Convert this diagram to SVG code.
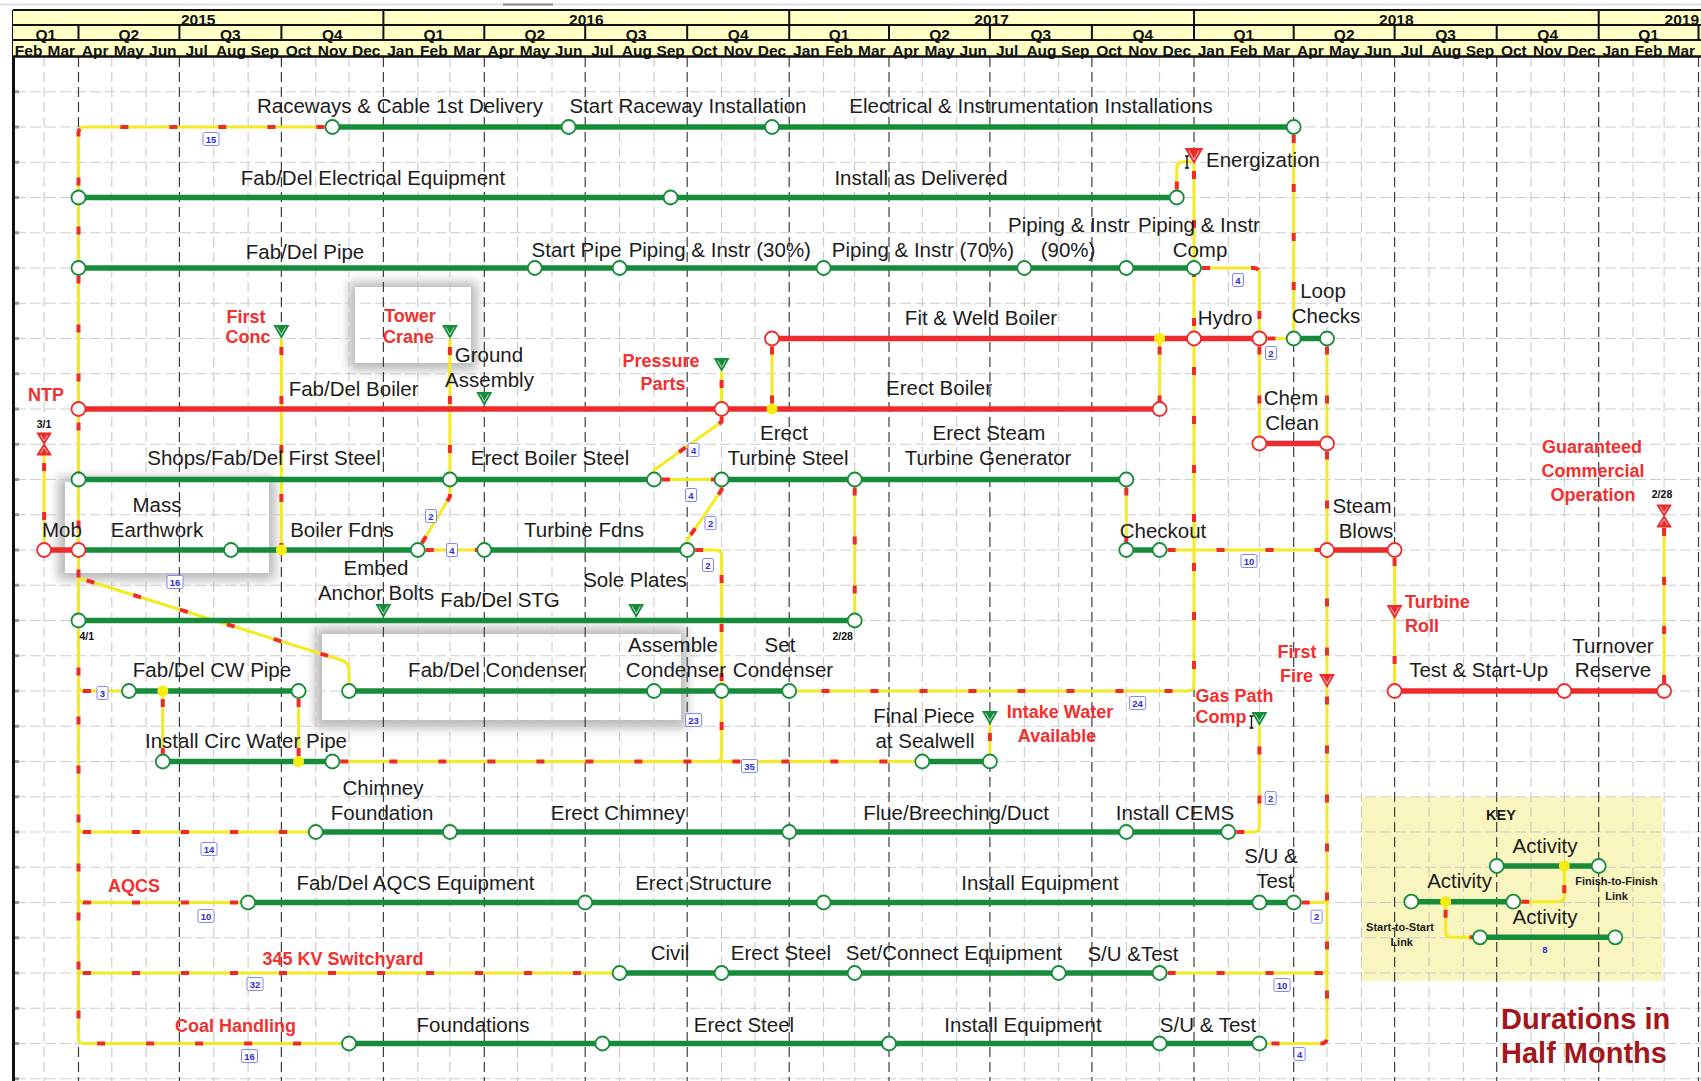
<svg xmlns="http://www.w3.org/2000/svg" width="1701" height="1081" viewBox="0 0 1701 1081">
<style>
.grid-h{stroke:#cdcdcd;stroke-width:1;stroke-dasharray:11 4;fill:none}
.grid-m{stroke:#c4c4c4;stroke-width:1;stroke-dasharray:10 5;fill:none}
.grid-q{stroke:#3c3c3c;stroke-width:1.2;stroke-dasharray:10 5;fill:none}
.tick{stroke:#9a9a9a;stroke-width:3;fill:none}
.hl{stroke:#111;stroke-width:2;fill:none}
.ht{font-family:"Liberation Sans",Arial,sans-serif;font-weight:bold;font-size:15.5px;fill:#111;text-anchor:middle}
.ag{stroke:#168C3A;stroke-width:5.5;fill:none}
.ar{stroke:#EE2B2B;stroke-width:5.5;fill:none}
.lk{stroke:#F3EA24;stroke-width:3;fill:none}
.lkd{stroke:#EE2B2B;stroke-width:4;fill:none;stroke-dasharray:8 41;stroke-dashoffset:-8}
.ng{fill:#fff;stroke:#168C3A;stroke-width:1.8}
.nr{fill:#fff;stroke:#EE2B2B;stroke-width:1.8}
.yd{fill:#F5EC12}
.t{font-family:"Liberation Sans",Arial,sans-serif;font-size:20.5px;fill:#1c1c1c;text-anchor:middle}
.tr{font-family:"Liberation Sans",Arial,sans-serif;font-size:18px;font-weight:bold;fill:#F2302F;text-anchor:middle}
.ts{font-family:"Liberation Sans",Arial,sans-serif;font-size:10.5px;font-weight:bold;fill:#111;text-anchor:middle}
.tk{font-family:"Liberation Sans",Arial,sans-serif;font-size:11px;font-weight:bold;fill:#1c1c1c;text-anchor:middle}
.tag{fill:#fff;stroke:#7b7bf2;stroke-width:0.9}
.tagt{font-family:"Liberation Sans",Arial,sans-serif;font-size:9.5px;font-weight:bold;fill:#2b2bdc;text-anchor:middle}
.dur{font-family:"Liberation Sans",Arial,sans-serif;font-size:29px;font-weight:bold;fill:#A3161A}
.inner{fill:none;stroke:#fff;stroke-width:1;opacity:.7}
.cur{stroke:#111;stroke-width:1.4;fill:none}
.hgs{fill:#EE2B2B;stroke:#EE2B2B;stroke-width:1.2;stroke-linejoin:round}
.shadow{fill:#8a8a8a;opacity:.6}
</style>
<defs>
  <filter id="soft" x="-20%" y="-30%" width="140%" height="160%"><feGaussianBlur stdDeviation="5.5"/></filter>
  <path id="tri" d="M-8 0H8L0 14Z"/>
  <path id="triv" d="M-4.2 2.3L0 9.5L4.2 2.3"/>
  <!-- dependency link routes -->
  <path id="k1" d="M332.4 127H84.5Q78.5 127 78.5 133V1037.5Q78.5 1043.5 84.5 1043.5H349"/>
  <path id="k2" d="M78.5 685Q78.5 691 84.5 691H128.9"/>
  <path id="k3" d="M78.5 826Q78.5 832 84.5 832H315.8"/>
  <path id="k4" d="M78.5 896.5Q78.5 902.5 84.5 902.5H248.1"/>
  <path id="k5" d="M78.5 967Q78.5 973 84.5 973H619.6"/>
  <path id="k6" d="M79 578L341 660Q349 662.5 349 670V691"/>
  <path id="k7" d="M44.1 455V550"/>
  <path id="k8" d="M281.4 339V550"/>
  <path id="k9" d="M449.9 339V479.5"/>
  <path id="k10" d="M721.6 372V409"/>
  <path id="k11" d="M721.6 409V421.7L654 470V479.5"/>
  <path id="k12" d="M654 479.5H721.6"/>
  <path id="k13" d="M721.6 479.5V490L687.2 540V550"/>
  <path id="k14" d="M687.2 550H715.6Q721.6 550 721.6 556V755.5Q721.6 761.5 715.6 761.5"/>
  <path id="k15" d="M332.4 761.5H922.3"/>
  <path id="k16" d="M417.8 550H484.3"/>
  <path id="k17" d="M417.8 550L449.9 496.7V479.5"/>
  <path id="k18" d="M772 338.5V409"/>
  <path id="k19" d="M1159.6 338.5V409"/>
  <path id="k20" d="M1176.8 197.5V168Q1176.8 162 1182.8 162H1192"/>
  <path id="k21" d="M1194 163V685Q1194 691 1188 691H789.2"/>
  <path id="k22" d="M1194 268H1253.4Q1259.4 268 1259.4 274V338.5"/>
  <path id="k23" d="M1259.4 338.5H1293.7"/>
  <path id="k24" d="M1293.7 127V338.5"/>
  <path id="k25" d="M1259.4 338.5V443.5"/>
  <path id="k26" d="M1327 338.5V443.5"/>
  <path id="k27" d="M1327 443.5V1037.5Q1327 1043.5 1321 1043.5H1259.4"/>
  <path id="k28" d="M1126.3 479.5V550"/>
  <path id="k29" d="M1159.6 550H1327"/>
  <path id="k30" d="M1394.6 550V691"/>
  <path id="k31" d="M1293.7 902.5H1321Q1327 902.5 1327 896.5"/>
  <path id="k32" d="M1159.6 973H1321Q1327 973 1327 967"/>
  <path id="k33" d="M1228.3 832H1253.4Q1259.4 832 1259.4 826V726"/>
  <path id="k34" d="M1664.1 691V527"/>
  <path id="k35" d="M989.9 725V761.5"/>
  <path id="k36" d="M854.7 479.5V620.5"/>
  <path id="k37" d="M162.8 691V761.5"/>
  <path id="k38" d="M298.6 691V761.5"/>
  <path id="kk1" d="M1513.3 901.7H1558.3Q1564.3 901.7 1564.3 895.7V866"/>
  <path id="kk2" d="M1445.6 901.7V931.3Q1445.6 937.3 1451.6 937.3H1480"/>
</defs>

<rect x="0" y="0" width="1701" height="1081" fill="#fff"/>
<path d="M0 4.5H1701" stroke="#dcdce6" stroke-width="2"/>
<path d="M503 4.5H553" stroke="#8a8a8a" stroke-width="2"/>

<!-- highlight panels and key background (grid shows through) -->
<g id="panels">
  <rect class="shadow" x="349" y="282" width="128" height="88" filter="url(#soft)"/>
  <rect x="355" y="287" width="116" height="76" fill="#fff"/>
  <rect class="shadow" x="58" y="477" width="217" height="103" filter="url(#soft)"/>
  <rect x="65" y="482" width="204" height="91" fill="#fff"/>
  <rect class="shadow" x="315" y="628" width="372" height="100" filter="url(#soft)"/>
  <rect x="322" y="634" width="359" height="86" fill="#fff"/>
  <rect x="1361.5" y="797" width="301" height="184" fill="#F9F5BE"/>
</g>

<!-- time grid -->
<g id="grid">
  <path class="grid-h" d="M15 91.75H1701M15 127H1701M15 162.25H1701M15 197.5H1701M15 232.75H1701M15 268H1701M15 303.25H1701M15 338.5H1701M15 373.75H1701M15 409H1701M15 444.25H1701M15 479.5H1701M15 514.75H1701M15 550H1701M15 585.25H1701M15 620.5H1701M15 655.75H1701M15 691H1701M15 726.25H1701M15 761.5H1701M15 796.75H1701M15 832H1701M15 867.25H1701M15 902.5H1701M15 937.75H1701M15 973H1701M15 1008.25H1701M15 1043.5H1701M15 1078.75H1701"/>
  <path class="tick" d="M15 91.75H19M15 127H19M15 162.25H19M15 197.5H19M15 232.75H19M15 268H19M15 303.25H19M15 338.5H19M15 373.75H19M15 409H19M15 444.25H19M15 479.5H19M15 514.75H19M15 550H19M15 585.25H19M15 620.5H19M15 655.75H19M15 691H19M15 726.25H19M15 761.5H19M15 796.75H19M15 832H19M15 867.25H19M15 902.5H19M15 937.75H19M15 973H19M15 1008.25H19M15 1043.5H19M15 1078.75H19"/>
  <path class="grid-m" d="M44.1 57V1081M111.8 57V1081M146.1 57V1081M213.8 57V1081M248.1 57V1081M315.8 57V1081M349 57V1081M417.8 57V1081M449.9 57V1081M517.6 57V1081M552 57V1081M619.6 57V1081M654 57V1081M721.6 57V1081M754.9 57V1081M823.6 57V1081M854.7 57V1081M922.3 57V1081M956.7 57V1081M1024.3 57V1081M1058.7 57V1081M1126.3 57V1081M1159.6 57V1081M1228.3 57V1081M1259.4 57V1081M1327 57V1081M1361.4 57V1081M1429 57V1081M1463.4 57V1081M1531 57V1081M1564.3 57V1081M1633 57V1081M1664.1 57V1081"/>
  <path class="grid-q" d="M78.5 57V1081M179.4 57V1081M281.4 57V1081M383.4 57V1081M484.3 57V1081M585.2 57V1081M687.2 57V1081M789.2 57V1081M889 57V1081M989.9 57V1081M1091.9 57V1081M1194 57V1081M1293.7 57V1081M1394.6 57V1081M1496.7 57V1081M1598.7 57V1081M1698.5 57V1081"/>
  <path d="M13.5 10V1081" stroke="#111" stroke-width="3"/>
</g>

<!-- timescale header -->
<g id="header">
  <rect x="13" y="10" width="1688" height="47" fill="#FFFFC6"/>
  <g class="ht">
    <text x="198.2" y="25">2015</text><text x="586.3" y="25">2016</text><text x="991.6" y="25">2017</text><text x="1396.3" y="25">2018</text><text x="1699" y="25" style="text-anchor:end">2019</text>
    <text x="45.8" y="40">Q1</text><text x="128.9" y="40">Q2</text><text x="230.4" y="40">Q3</text><text x="332.4" y="40">Q4</text>
    <text x="433.9" y="40">Q1</text><text x="534.8" y="40">Q2</text><text x="636.2" y="40">Q3</text><text x="738.2" y="40">Q4</text>
    <text x="839.1" y="40">Q1</text><text x="939.5" y="40">Q2</text><text x="1040.9" y="40">Q3</text><text x="1142.9" y="40">Q4</text>
    <text x="1243.8" y="40">Q1</text><text x="1344.2" y="40">Q2</text><text x="1445.6" y="40">Q3</text><text x="1547.7" y="40">Q4</text>
    <text x="1648.6" y="40">Q1</text>
    <text x="28.6" y="56">Feb</text><text x="61.3" y="56">Mar</text><text x="95.1" y="56">Apr</text><text x="128.9" y="56">May</text><text x="162.8" y="56">Jun</text><text x="196.6" y="56">Jul</text><text x="231" y="56">Aug</text><text x="264.8" y="56">Sep</text><text x="298.6" y="56">Oct</text><text x="332.4" y="56">Nov</text><text x="366.2" y="56">Dec</text>
    <text x="400.6" y="56">Jan</text><text x="433.9" y="56">Feb</text><text x="467.1" y="56">Mar</text><text x="500.9" y="56">Apr</text><text x="534.8" y="56">May</text><text x="568.6" y="56">Jun</text><text x="602.4" y="56">Jul</text><text x="636.8" y="56">Aug</text><text x="670.6" y="56">Sep</text><text x="704.4" y="56">Oct</text><text x="738.2" y="56">Nov</text><text x="772" y="56">Dec</text>
    <text x="806.4" y="56">Jan</text><text x="839.1" y="56">Feb</text><text x="871.8" y="56">Mar</text><text x="905.7" y="56">Apr</text><text x="939.5" y="56">May</text><text x="973.3" y="56">Jun</text><text x="1007.1" y="56">Jul</text><text x="1041.5" y="56">Aug</text><text x="1075.3" y="56">Sep</text><text x="1109.1" y="56">Oct</text><text x="1142.9" y="56">Nov</text><text x="1176.8" y="56">Dec</text>
    <text x="1211.1" y="56">Jan</text><text x="1243.8" y="56">Feb</text><text x="1276.6" y="56">Mar</text><text x="1310.4" y="56">Apr</text><text x="1344.2" y="56">May</text><text x="1378" y="56">Jun</text><text x="1411.8" y="56">Jul</text><text x="1446.2" y="56">Aug</text><text x="1480" y="56">Sep</text><text x="1513.8" y="56">Oct</text><text x="1547.7" y="56">Nov</text><text x="1581.5" y="56">Dec</text>
    <text x="1615.8" y="56">Jan</text><text x="1648.6" y="56">Feb</text><text x="1681.3" y="56">Mar</text>
  </g>
  <path class="hl" d="M13 10H1701M13 25H1701M13 40H1701"/>
  <path d="M13 56.5H1701" stroke="#111" stroke-width="2.5"/>
  <path class="hl" d="M383.4 10V25M789.2 10V25M1194 10V25M1598.7 10V25"/>
  <path class="hl" d="M78.5 25V40M179.4 25V40M281.4 25V40M383.4 25V40M484.3 25V40M585.2 25V40M687.2 25V40M789.2 25V40M889 25V40M989.9 25V40M1091.9 25V40M1194 25V40M1293.7 25V40M1394.6 25V40M1496.7 25V40M1598.7 25V40M1698.5 25V40"/>
</g>

<!-- logic links: yellow route with red direction marks -->
<g id="connectors">
  <g class="lk">
    <use href="#k1"/><use href="#k2"/><use href="#k3"/><use href="#k4"/><use href="#k5"/><use href="#k6"/><use href="#k7"/><use href="#k8"/><use href="#k9"/><use href="#k10"/>
    <use href="#k11"/><use href="#k12"/><use href="#k13"/><use href="#k14"/><use href="#k15"/><use href="#k16"/><use href="#k17"/><use href="#k18"/><use href="#k19"/><use href="#k20"/>
    <use href="#k21"/><use href="#k22"/><use href="#k23"/><use href="#k24"/><use href="#k25"/><use href="#k26"/><use href="#k27"/><use href="#k28"/><use href="#k29"/><use href="#k30"/>
    <use href="#k31"/><use href="#k32"/><use href="#k33"/><use href="#k34"/><use href="#k35"/><use href="#k36"/><use href="#k37"/><use href="#k38"/>
    <use href="#kk1"/><use href="#kk2"/>
  </g>
  <g class="lkd">
    <use href="#k1"/><use href="#k2"/><use href="#k3"/><use href="#k4"/><use href="#k5"/><use href="#k6"/><use href="#k7"/><use href="#k8"/><use href="#k9"/><use href="#k10"/>
    <use href="#k11"/><use href="#k12"/><use href="#k13"/><use href="#k14"/><use href="#k15"/><use href="#k16"/><use href="#k17"/><use href="#k18"/><use href="#k19"/><use href="#k20"/>
    <use href="#k21"/><use href="#k22"/><use href="#k23"/><use href="#k24"/><use href="#k25"/><use href="#k26"/><use href="#k27"/><use href="#k28"/><use href="#k29"/><use href="#k30"/>
    <use href="#k31"/><use href="#k32"/><use href="#k33"/><use href="#k34"/><use href="#k35"/><use href="#k36"/><use href="#k37"/><use href="#k38"/>
    <use href="#kk1"/><use href="#kk2"/>
  </g>
  <path class="cur" d="M1187 156V168M1185 156H1189M1185 168H1189"/>
  <path class="cur" d="M1251.5 716V728M1249.5 716H1253.5M1249.5 728H1253.5"/>
  <g id="link-tags">
    <rect class="tag" x="203" y="132.5" width="16" height="13" rx="1.5"/><text class="tagt" x="211" y="142.5">15</text>
    <rect class="tag" x="97" y="686.5" width="11" height="13" rx="1.5"/><text class="tagt" x="102.4" y="696.5">3</text>
    <rect class="tag" x="201" y="842.5" width="16" height="13" rx="1.5"/><text class="tagt" x="209" y="852.5">14</text>
    <rect class="tag" x="198" y="909.5" width="16" height="13" rx="1.5"/><text class="tagt" x="206" y="919.5">10</text>
    <rect class="tag" x="247" y="977.5" width="16" height="13" rx="1.5"/><text class="tagt" x="255" y="987.5">32</text>
    <rect class="tag" x="241.5" y="1049.5" width="16" height="13" rx="1.5"/><text class="tagt" x="249.5" y="1059.5">16</text>
    <rect class="tag" x="167" y="575.5" width="16" height="13" rx="1.5"/><text class="tagt" x="175" y="585.5">16</text>
    <rect class="tag" x="688" y="443.5" width="11" height="13" rx="1.5"/><text class="tagt" x="693.6" y="453.5">4</text>
    <rect class="tag" x="685.5" y="488.5" width="11" height="13" rx="1.5"/><text class="tagt" x="691" y="498.5">4</text>
    <rect class="tag" x="705" y="516.5" width="11" height="13" rx="1.5"/><text class="tagt" x="710.6" y="526.5">2</text>
    <rect class="tag" x="702.5" y="558.5" width="11" height="13" rx="1.5"/><text class="tagt" x="708" y="568.5">2</text>
    <rect class="tag" x="425.5" y="509.5" width="11" height="13" rx="1.5"/><text class="tagt" x="431" y="519.5">2</text>
    <rect class="tag" x="446.5" y="543.5" width="11" height="13" rx="1.5"/><text class="tagt" x="452" y="553.5">4</text>
    <rect class="tag" x="741.6" y="759.5" width="16" height="13" rx="1.5"/><text class="tagt" x="749.6" y="769.5">35</text>
    <rect class="tag" x="685.6" y="713.5" width="16" height="13" rx="1.5"/><text class="tagt" x="693.6" y="723.5">23</text>
    <rect class="tag" x="1129.6" y="696.5" width="16" height="13" rx="1.5"/><text class="tagt" x="1137.6" y="706.5">24</text>
    <rect class="tag" x="1232.5" y="273.5" width="11" height="13" rx="1.5"/><text class="tagt" x="1238" y="283.5">4</text>
    <rect class="tag" x="1265.5" y="346.5" width="11" height="13" rx="1.5"/><text class="tagt" x="1271" y="356.5">2</text>
    <rect class="tag" x="1241" y="554.5" width="16" height="13" rx="1.5"/><text class="tagt" x="1249" y="564.5">10</text>
    <rect class="tag" x="1265.2" y="791.5" width="11" height="13" rx="1.5"/><text class="tagt" x="1270.7" y="801.5">2</text>
    <rect class="tag" x="1311.1" y="910.2" width="11" height="13" rx="1.5"/><text class="tagt" x="1316.6" y="920.2">2</text>
    <rect class="tag" x="1274" y="978.5" width="16" height="13" rx="1.5"/><text class="tagt" x="1282" y="988.5">10</text>
    <rect class="tag" x="1294.1" y="1047.5" width="11" height="13" rx="1.5"/><text class="tagt" x="1299.6" y="1057.5">4</text>
  </g>
</g>

<!-- activities, one group each (bar + caption) -->
<g id="activities">
  <g id="act-raceways-delivery"><path class="ag" d="M332.4 127H568.6"/><text class="t" x="400" y="113">Raceways &amp; Cable 1st Delivery</text></g>
  <g id="act-start-raceway"><path class="ag" d="M568.6 127H772"/><text class="t" x="688" y="113">Start Raceway Installation</text></g>
  <g id="act-ei-install"><path class="ag" d="M772 127H1293.7"/><text class="t" x="1031" y="113">Electrical &amp; Instrumentation Installations</text></g>

  <g id="act-fabdel-elec"><path class="ag" d="M78.5 197.5H670.6"/><text class="t" x="373" y="185">Fab/Del Electrical Equipment</text></g>
  <g id="act-install-delivered"><path class="ag" d="M670.6 197.5H1176.8"/><text class="t" x="921" y="185">Install as Delivered</text></g>

  <g id="act-fabdel-pipe"><path class="ag" d="M78.5 268H534.8"/><text class="t" x="305" y="259">Fab/Del Pipe</text></g>
  <g id="act-start-pipe"><path class="ag" d="M534.8 268H619.6"/><text class="t" x="576.6" y="257">Start Pipe</text></g>
  <g id="act-pipe-30"><path class="ag" d="M619.6 268H823.6"/><text class="t" x="719.8" y="257">Piping &amp; Instr (30%)</text></g>
  <g id="act-pipe-70"><path class="ag" d="M823.6 268H1024.3"/><text class="t" x="923" y="257">Piping &amp; Instr (70%)</text></g>
  <g id="act-pipe-90"><path class="ag" d="M1024.3 268H1126.3"/><text class="t" x="1069" y="232">Piping &amp; Instr</text><text class="t" x="1068" y="257">(90%)</text></g>
  <g id="act-pipe-comp"><path class="ag" d="M1126.3 268H1194"/><text class="t" x="1199" y="232">Piping &amp; Instr</text><text class="t" x="1200" y="257">Comp</text></g>

  <g id="act-fit-weld"><path class="ar" d="M772 338.5H1194"/><text class="t" x="981" y="325">Fit &amp; Weld Boiler</text></g>
  <g id="act-hydro"><path class="ar" d="M1194 338.5H1259.4"/><text class="t" x="1225" y="325">Hydro</text></g>
  <g id="act-loop-checks"><path class="ag" d="M1293.7 338.5H1327"/><text class="t" x="1323" y="298">Loop</text><text class="t" x="1326" y="323">Checks</text></g>

  <g id="act-fabdel-boiler"><path class="ar" d="M78.5 409H721.6"/><text class="t" x="353.6" y="396">Fab/Del Boiler</text></g>
  <g id="act-erect-boiler"><path class="ar" d="M721.6 409H1159.6"/><text class="t" x="939" y="395">Erect Boiler</text></g>
  <g id="act-chem-clean"><path class="ar" d="M1259.4 443.5H1327"/><text class="t" x="1291" y="405">Chem</text><text class="t" x="1292" y="430">Clean</text></g>

  <g id="act-first-steel"><path class="ag" d="M78.5 479.5H449.9"/><text class="t" x="264" y="465">Shops/Fab/Del First Steel</text></g>
  <g id="act-erect-boiler-steel"><path class="ag" d="M449.9 479.5H654"/><text class="t" x="550" y="465">Erect Boiler Steel</text></g>
  <g id="act-erect-turbine-steel"><path class="ag" d="M721.6 479.5H854.7"/><text class="t" x="784" y="440">Erect</text><text class="t" x="788" y="465">Turbine Steel</text></g>
  <g id="act-erect-stg"><path class="ag" d="M854.7 479.5H1126.3"/><text class="t" x="989" y="440">Erect Steam</text><text class="t" x="988" y="465">Turbine Generator</text></g>

  <g id="act-mob"><path class="ar" d="M44.1 550H78.5"/><text class="t" x="62" y="537">Mob</text></g>
  <g id="act-mass-earthwork"><path class="ag" d="M78.5 550H231"/><text class="t" x="157" y="512">Mass</text><text class="t" x="157" y="537">Earthwork</text></g>
  <g id="act-boiler-fdns"><path class="ag" d="M231 550H417.8"/><text class="t" x="342" y="537">Boiler Fdns</text></g>
  <g id="act-turbine-fdns"><path class="ag" d="M484.3 550H687.2"/><text class="t" x="584" y="537">Turbine Fdns</text></g>
  <g id="act-checkout"><path class="ag" d="M1126.3 550H1159.6"/><text class="t" x="1163" y="538">Checkout</text></g>
  <g id="act-steam-blows"><path class="ar" d="M1327 550H1394.6"/><text class="t" x="1362" y="513">Steam</text><text class="t" x="1366" y="538">Blows</text></g>

  <g id="act-fabdel-stg"><path class="ag" d="M78.5 620.5H854.7"/><text class="t" x="500" y="607">Fab/Del STG</text></g>

  <g id="act-cw-pipe"><path class="ag" d="M128.9 691H298.6"/><text class="t" x="212" y="677">Fab/Del CW Pipe</text></g>
  <g id="act-fabdel-condenser"><path class="ag" d="M349 691H654"/><text class="t" x="497" y="677">Fab/Del Condenser</text></g>
  <g id="act-assemble-condenser"><path class="ag" d="M654 691H721.6"/><text class="t" x="673" y="652">Assemble</text><text class="t" x="676" y="677">Condenser</text></g>
  <g id="act-set-condenser"><path class="ag" d="M721.6 691H789.2"/><text class="t" x="780" y="652">Set</text><text class="t" x="783" y="677">Condenser</text></g>
  <g id="act-test-startup"><path class="ar" d="M1394.6 691H1564.3"/><text class="t" x="1478.7" y="677">Test &amp; Start-Up</text></g>
  <g id="act-turnover"><path class="ar" d="M1564.3 691H1664.1"/><text class="t" x="1613" y="653">Turnover</text><text class="t" x="1613" y="677">Reserve</text></g>

  <g id="act-circ-water"><path class="ag" d="M162.8 761.5H332.4"/><text class="t" x="246" y="748">Install Circ Water Pipe</text></g>
  <g id="act-final-piece"><path class="ag" d="M922.3 761.5H989.9"/><text class="t" x="924" y="723">Final Piece</text><text class="t" x="925" y="748">at Sealwell</text></g>

  <g id="act-chimney-fdn"><path class="ag" d="M315.8 832H449.9"/><text class="t" x="383" y="795">Chimney</text><text class="t" x="382" y="820">Foundation</text></g>
  <g id="act-erect-chimney"><path class="ag" d="M449.9 832H789.2"/><text class="t" x="618" y="820">Erect Chimney</text></g>
  <g id="act-flue"><path class="ag" d="M789.2 832H1126.3"/><text class="t" x="956" y="820">Flue/Breeching/Duct</text></g>
  <g id="act-cems"><path class="ag" d="M1126.3 832H1228.3"/><text class="t" x="1175" y="820">Install CEMS</text></g>

  <g id="act-aqcs-fab"><path class="ag" d="M248.1 902.5H585.2"/><text class="t" x="415.5" y="890">Fab/Del AQCS Equipment</text></g>
  <g id="act-aqcs-structure"><path class="ag" d="M585.2 902.5H823.6"/><text class="t" x="703.5" y="890">Erect Structure</text></g>
  <g id="act-aqcs-install"><path class="ag" d="M823.6 902.5H1259.4"/><text class="t" x="1040" y="890">Install Equipment</text></g>
  <g id="act-aqcs-su"><path class="ag" d="M1259.4 902.5H1293.7"/><text class="t" x="1271" y="863">S/U &amp;</text><text class="t" x="1275" y="888">Test</text></g>

  <g id="act-sy-civil"><path class="ag" d="M619.6 973H721.6"/><text class="t" x="670" y="960">Civil</text></g>
  <g id="act-sy-steel"><path class="ag" d="M721.6 973H854.7"/><text class="t" x="781" y="960">Erect Steel</text></g>
  <g id="act-sy-equip"><path class="ag" d="M854.7 973H1058.7"/><text class="t" x="954" y="960">Set/Connect Equipment</text></g>
  <g id="act-sy-su"><path class="ag" d="M1058.7 973H1159.6"/><text class="t" x="1133" y="961">S/U &amp;Test</text></g>

  <g id="act-coal-fdn"><path class="ag" d="M349 1043.5H602.4"/><text class="t" x="473" y="1032">Foundations</text></g>
  <g id="act-coal-steel"><path class="ag" d="M602.4 1043.5H889"/><text class="t" x="744" y="1032">Erect Steel</text></g>
  <g id="act-coal-equip"><path class="ag" d="M889 1043.5H1159.6"/><text class="t" x="1023" y="1032">Install Equipment</text></g>
  <g id="act-coal-su"><path class="ag" d="M1159.6 1043.5H1259.4"/><text class="t" x="1208" y="1032">S/U &amp; Test</text></g>
</g>

<!-- area captions -->
<g id="areas">
  <text class="tr" x="46" y="401">NTP</text>
  <text class="tr" x="134" y="892">AQCS</text>
  <text class="tr" x="343" y="965">345 KV Switchyard</text>
  <text class="tr" x="235.6" y="1032">Coal Handling</text>
</g>

<!-- milestones -->
<g id="milestones">
  <g id="ms-mob">
    <path class="hgs" d="M37.1 433H51.1L44.1 444ZM44.1 444L51.1 455H37.1Z"/>
    <path class="inner" d="M40.5 435L44.1 441L47.7 435M40.5 453L44.1 447L47.7 453"/>
    <text class="ts" x="44" y="428">3/1</text>
  </g>
  <g id="ms-first-conc"><use href="#tri" x="281.4" y="325" fill="#168C3A"/><use href="#triv" x="281.4" y="325" class="inner"/><text class="tr" x="246" y="323">First</text><text class="tr" x="248" y="343">Conc</text></g>
  <g id="ms-tower-crane"><use href="#tri" x="449.9" y="325" fill="#168C3A"/><use href="#triv" x="449.9" y="325" class="inner"/><text class="tr" x="410" y="322">Tower</text><text class="tr" x="408.5" y="343">Crane</text></g>
  <g id="ms-ground-assembly"><use href="#tri" x="484.3" y="392" fill="#168C3A"/><use href="#triv" x="484.3" y="392" class="inner"/><text class="t" x="489" y="362">Ground</text><text class="t" x="489.5" y="387">Assembly</text></g>
  <g id="ms-pressure-parts"><use href="#tri" x="721.6" y="358" fill="#168C3A"/><use href="#triv" x="721.6" y="358" class="inner"/><text class="tr" x="661" y="367">Pressure</text><text class="tr" x="663" y="390">Parts</text></g>
  <g id="ms-embed"><use href="#tri" x="383.4" y="604" fill="#168C3A"/><use href="#triv" x="383.4" y="604" class="inner"/><text class="t" x="376" y="575">Embed</text><text class="t" x="376" y="600">Anchor Bolts</text></g>
  <g id="ms-sole-plates"><use href="#tri" x="636.2" y="604" fill="#168C3A"/><use href="#triv" x="636.2" y="604" class="inner"/><text class="t" x="635" y="587">Sole Plates</text></g>
  <g id="ms-intake-water"><use href="#tri" x="989.9" y="711" fill="#168C3A"/><use href="#triv" x="989.9" y="711" class="inner"/><text class="tr" x="1060" y="718">Intake Water</text><text class="tr" x="1057" y="742">Available</text></g>
  <g id="ms-gas-path"><use href="#tri" x="1259.4" y="712" fill="#168C3A"/><use href="#triv" x="1259.4" y="712" class="inner"/><text class="tr" x="1195.5" y="702" style="text-anchor:start">Gas Path</text><text class="tr" x="1195.5" y="723" style="text-anchor:start">Comp</text></g>
  <g id="ms-energization"><path d="M1184.5 148H1203.5L1194 164Z" fill="#EE2B2B"/><path class="inner" d="M1189 150.5L1194 160L1199 150.5"/><text class="t" x="1206" y="167" style="text-anchor:start">Energization</text></g>
  <g id="ms-turbine-roll"><use href="#tri" x="1394.6" y="605" fill="#EE2B2B"/><use href="#triv" x="1394.6" y="605" class="inner"/><text class="tr" x="1405" y="608" style="text-anchor:start">Turbine</text><text class="tr" x="1405" y="632" style="text-anchor:start">Roll</text></g>
  <g id="ms-first-fire"><use href="#tri" x="1327" y="674" fill="#EE2B2B"/><use href="#triv" x="1327" y="674" class="inner"/><text class="tr" x="1297" y="658">First</text><text class="tr" x="1296.5" y="682">Fire</text></g>
  <g id="ms-gco">
    <path class="hgs" d="M1657.1 505H1671.1L1664.1 516ZM1664.1 516L1671.1 527H1657.1Z"/>
    <path class="inner" d="M1660.5 507L1664.1 513L1667.7 507M1660.5 525L1664.1 519L1667.7 525"/>
    <text class="ts" x="1662" y="498">2/28</text>
    <text class="tr" x="1592" y="453">Guaranteed</text><text class="tr" x="1593" y="477">Commercial</text><text class="tr" x="1593" y="501">Operation</text>
  </g>
  <text class="ts" x="86.8" y="640">4/1</text>
  <text class="ts" x="842.6" y="640">2/28</text>
</g>

<!-- event nodes -->
<g id="events">
  <g id="ev-row-a"><circle class="ng" cx="332.4" cy="127" r="7"/><circle class="ng" cx="568.6" cy="127" r="7"/><circle class="ng" cx="772" cy="127" r="7"/><circle class="ng" cx="1293.7" cy="127" r="7"/></g>
  <g id="ev-row-b"><circle class="ng" cx="78.5" cy="197.5" r="7"/><circle class="ng" cx="670.6" cy="197.5" r="7"/><circle class="ng" cx="1176.8" cy="197.5" r="7"/></g>
  <g id="ev-row-c"><circle class="ng" cx="78.5" cy="268" r="7"/><circle class="ng" cx="534.8" cy="268" r="7"/><circle class="ng" cx="619.6" cy="268" r="7"/><circle class="ng" cx="823.6" cy="268" r="7"/><circle class="ng" cx="1024.3" cy="268" r="7"/><circle class="ng" cx="1126.3" cy="268" r="7"/><circle class="ng" cx="1194" cy="268" r="7"/></g>
  <g id="ev-row-d"><circle class="nr" cx="772" cy="338.5" r="7"/><circle class="yd" cx="1159.6" cy="338.5" r="5.5"/><circle class="nr" cx="1194" cy="338.5" r="7"/><circle class="nr" cx="1259.4" cy="338.5" r="7"/><circle class="ng" cx="1293.7" cy="338.5" r="7"/><circle class="ng" cx="1327" cy="338.5" r="7"/></g>
  <g id="ev-row-e"><circle class="nr" cx="78.5" cy="409" r="7"/><circle class="nr" cx="721.6" cy="409" r="7"/><circle class="yd" cx="772" cy="409" r="5.5"/><circle class="nr" cx="1159.6" cy="409" r="7"/><circle class="nr" cx="1259.4" cy="443.5" r="7"/><circle class="nr" cx="1327" cy="443.5" r="7"/></g>
  <g id="ev-row-f"><circle class="ng" cx="78.5" cy="479.5" r="7"/><circle class="ng" cx="449.9" cy="479.5" r="7"/><circle class="ng" cx="654" cy="479.5" r="7"/><circle class="ng" cx="721.6" cy="479.5" r="7"/><circle class="ng" cx="854.7" cy="479.5" r="7"/><circle class="ng" cx="1126.3" cy="479.5" r="7"/></g>
  <g id="ev-row-g"><circle class="nr" cx="44.1" cy="550" r="7"/><circle class="nr" cx="78.5" cy="550" r="7"/><circle class="ng" cx="231" cy="550" r="7"/><circle class="yd" cx="281.4" cy="550" r="5.5"/><circle class="ng" cx="417.8" cy="550" r="7"/><circle class="ng" cx="484.3" cy="550" r="7"/><circle class="ng" cx="687.2" cy="550" r="7"/><circle class="ng" cx="1126.3" cy="550" r="7"/><circle class="ng" cx="1159.6" cy="550" r="7"/><circle class="nr" cx="1327" cy="550" r="7"/><circle class="nr" cx="1394.6" cy="550" r="7"/></g>
  <g id="ev-row-h"><circle class="ng" cx="78.5" cy="620.5" r="7"/><circle class="ng" cx="854.7" cy="620.5" r="7"/></g>
  <g id="ev-row-i"><circle class="ng" cx="128.9" cy="691" r="7"/><circle class="yd" cx="162.8" cy="691" r="5.5"/><circle class="ng" cx="298.6" cy="691" r="7"/><circle class="ng" cx="349" cy="691" r="7"/><circle class="ng" cx="654" cy="691" r="7"/><circle class="ng" cx="721.6" cy="691" r="7"/><circle class="ng" cx="789.2" cy="691" r="7"/><circle class="nr" cx="1394.6" cy="691" r="7"/><circle class="nr" cx="1564.3" cy="691" r="7"/><circle class="nr" cx="1664.1" cy="691" r="7"/></g>
  <g id="ev-row-j"><circle class="ng" cx="162.8" cy="761.5" r="7"/><circle class="yd" cx="298.6" cy="761.5" r="5.5"/><circle class="ng" cx="332.4" cy="761.5" r="7"/><circle class="ng" cx="922.3" cy="761.5" r="7"/><circle class="ng" cx="989.9" cy="761.5" r="7"/></g>
  <g id="ev-row-k"><circle class="ng" cx="315.8" cy="832" r="7"/><circle class="ng" cx="449.9" cy="832" r="7"/><circle class="ng" cx="789.2" cy="832" r="7"/><circle class="ng" cx="1126.3" cy="832" r="7"/><circle class="ng" cx="1228.3" cy="832" r="7"/></g>
  <g id="ev-row-l"><circle class="ng" cx="248.1" cy="902.5" r="7"/><circle class="ng" cx="585.2" cy="902.5" r="7"/><circle class="ng" cx="823.6" cy="902.5" r="7"/><circle class="ng" cx="1259.4" cy="902.5" r="7"/><circle class="ng" cx="1293.7" cy="902.5" r="7"/></g>
  <g id="ev-row-m"><circle class="ng" cx="619.6" cy="973" r="7"/><circle class="ng" cx="721.6" cy="973" r="7"/><circle class="ng" cx="854.7" cy="973" r="7"/><circle class="ng" cx="1058.7" cy="973" r="7"/><circle class="ng" cx="1159.6" cy="973" r="7"/></g>
  <g id="ev-row-n"><circle class="ng" cx="349" cy="1043.5" r="7"/><circle class="ng" cx="602.4" cy="1043.5" r="7"/><circle class="ng" cx="889" cy="1043.5" r="7"/><circle class="ng" cx="1159.6" cy="1043.5" r="7"/><circle class="ng" cx="1259.4" cy="1043.5" r="7"/></g>
</g>

<!-- legend -->
<g id="key">
  <text x="1501" y="820" style="font-family:'Liberation Sans',Arial,sans-serif;font-size:14.5px;font-weight:bold;fill:#1c1c1c;text-anchor:middle">KEY</text>
  <path class="ag" d="M1496.7 866H1598.7"/>
  <path class="ag" d="M1411.3 901.7H1513.3"/>
  <path class="ag" d="M1480 937.3H1615.3"/>
  <circle class="ng" cx="1496.7" cy="866" r="7"/><circle class="yd" cx="1564.3" cy="866" r="5.5"/><circle class="ng" cx="1598.7" cy="866" r="7"/>
  <circle class="ng" cx="1411.3" cy="901.7" r="7"/><circle class="yd" cx="1445.6" cy="901.7" r="5.5"/><circle class="ng" cx="1513.3" cy="901.7" r="7"/>
  <circle class="ng" cx="1480" cy="937.3" r="7"/><circle class="ng" cx="1615.3" cy="937.3" r="7"/>
  <text class="t" x="1545" y="853">Activity</text>
  <text class="t" x="1459.6" y="888">Activity</text>
  <text class="t" x="1545" y="924">Activity</text>
  <text class="tk" x="1616.4" y="885">Finish-to-Finish</text><text class="tk" x="1616.5" y="900">Link</text>
  <text class="tk" x="1400" y="931">Start-to-Start</text><text class="tk" x="1401.7" y="946">Link</text>
  <text class="tagt" x="1545" y="953">8</text>
</g>

<g id="note">
  <text class="dur" x="1501" y="1029">Durations in</text>
  <text class="dur" x="1501" y="1063">Half Months</text>
</g>
</svg>
